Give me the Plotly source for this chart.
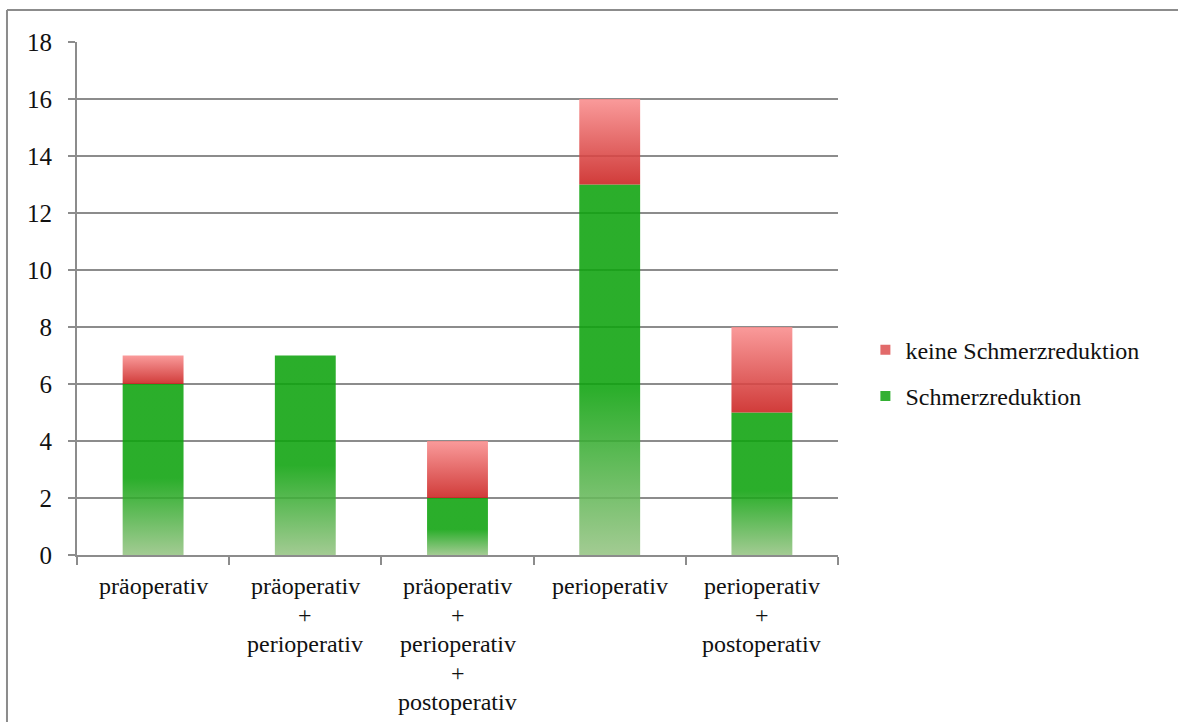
import plotly.graph_objects as go

# Behandlungszeitpunkt der Schmerztherapie
categories = [
    "präoperativ",
    "präoperativ\n+\nperioperativ",
    "präoperativ\n+\nperioperativ\n+\npostoperativ",
    "perioperativ",
    "perioperativ\n+\npostoperativ",
]
schmerzreduktion = [6, 7, 2, 13, 5]
keine_schmerzreduktion = [1, 0, 2, 3, 3]
y_ticks = [0, 2, 4, 6, 8, 10, 12, 14, 16, 18]

BAR_WIDTH = 0.4
FONT = '"Liberation Serif", "Times New Roman", Times, serif'
GRID = "#8c8c8c"
TEXT = "#111111"
OPACITY = 0.88

green_scale = [[0.0, "rgb(150,196,132)"], [0.45, "rgb(14,163,14)"], [1.0, "rgb(14,163,14)"]]
red_scale = [[0.0, "rgb(202,33,31)"], [1.0, "rgb(249,141,141)"]]

fig = go.Figure()


def add_segment(center, base, height, scale):
    if height <= 0:
        return
    left, right = center - BAR_WIDTH / 2, center + BAR_WIDTH / 2
    top = base + height
    fig.add_trace(go.Scatter(
        x=[left, right, right, left, left],
        y=[base, base, top, top, base],
        mode="lines",
        line=dict(width=0),
        fill="toself",
        fillgradient=dict(type="vertical", colorscale=scale),
        opacity=OPACITY,
        hoverinfo="skip",
        showlegend=False,
    ))


for i, (g, r) in enumerate(zip(schmerzreduktion, keine_schmerzreduktion)):
    add_segment(i, 0, g, green_scale)
    add_segment(i, g, r, red_scale)

# legend entries
fig.add_trace(go.Scatter(
    x=[None], y=[None], mode="markers", name="keine Schmerzreduktion",
    legendgroup="keine", marker=dict(symbol="square", size=10, color="#e26a6a"),
))
fig.add_trace(go.Scatter(
    x=[None], y=[None], mode="markers", name="Schmerzreduktion",
    legendgroup="reduktion", marker=dict(symbol="square", size=10, color="#33b033"),
))

# category labels, one annotation per text line
for i, label in enumerate(categories):
    for j, line in enumerate(label.split("\n")):
        fig.add_annotation(
            x=i, y=0, xref="x", yref="paper",
            text=line, showarrow=False,
            xanchor="center", yanchor="middle",
            yshift=-(31 + 29 * j),
            font=dict(family=FONT, size=24, color=TEXT),
        )

# outer frame (left and top edges)
frame = dict(color=GRID, width=2)
fig.add_shape(type="line", xref="paper", yref="paper",
              x0=-0.092, x1=-0.092, y0=-0.6, y1=1.0624, line=frame, layer="below")
fig.add_shape(type="line", xref="paper", yref="paper",
              x0=-0.092, x1=1.45, y0=1.0624, y1=1.0624, line=frame, layer="below")

n = len(categories)
fig.update_layout(
    width=1178, height=722,
    margin=dict(l=77, r=340, t=42, b=167),
    paper_bgcolor="white", plot_bgcolor="white",
    font=dict(family=FONT, size=24, color=TEXT),
    xaxis=dict(
        range=[-0.5, n - 0.5],
        tickvals=[k - 0.5 for k in range(n + 1)],
        ticktext=[""] * (n + 1),
        showgrid=False, zeroline=False,
        showline=True, linecolor=GRID, linewidth=2,
        ticks="outside", ticklen=8, tickwidth=2, tickcolor=GRID,
        fixedrange=True,
    ),
    yaxis=dict(
        range=[0, 18], tickvals=y_ticks,
        showgrid=True, gridcolor=GRID, gridwidth=2,
        zeroline=False,
        showline=True, linecolor=GRID, linewidth=2,
        ticks="outside", ticklen=7, tickwidth=2, tickcolor=GRID,
        ticklabelstandoff=11,
        tickfont=dict(family=FONT, size=25, color=TEXT),
        fixedrange=True,
    ),
    legend=dict(
        x=1.036, y=0.443, xanchor="left", yanchor="top",
        traceorder="grouped", tracegroupgap=12,
        font=dict(family=FONT, size=24, color=TEXT),
        bgcolor="rgba(0,0,0,0)", itemwidth=30,
    ),
    showlegend=True,
)

fig.write_html("out.html")
